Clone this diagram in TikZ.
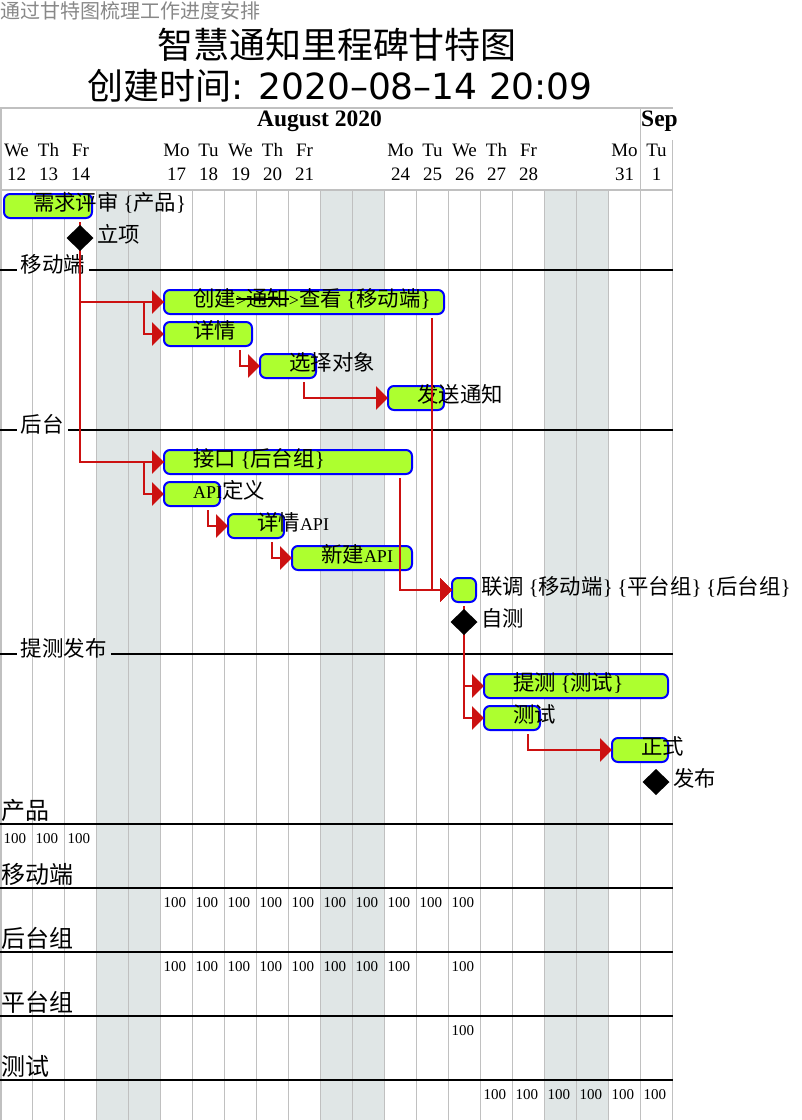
\documentclass[tikz,border=0pt]{standalone}
\usepackage{fontspec}
\setmainfont{Liberation Serif}
\newfontfamily\cjk{Noto Sans CJK SC}
\newfontfamily\dvs{DejaVu Sans}
\usetikzlibrary{arrows.meta,shapes.geometric}
\newcommand\fs[1]{\fontsize{#1}{#1}\selectfont}
\newcommand\C[1]{{\cjk\fs{21.4}#1}}
\newcommand\LB{{\fs{21}\{}}
\newcommand\RB{{\fs{21}\}}}
\newcommand\strk[1]{\setbox0\hbox{#1}\rlap{\rule[0.38em]{\wd0}{1.6pt}}\box0}
\definecolor{barfill}{RGB}{173,255,47}
\definecolor{barline}{RGB}{0,0,255}
\definecolor{depc}{RGB}{204,17,17}
\definecolor{gridc}{RGB}{192,192,192}
\definecolor{shadec}{RGB}{224,230,230}
\definecolor{capgray}{RGB}{136,136,136}
\begin{document}
\begin{tikzpicture}[x=1pt,y=-1pt,
  bar/.style={draw=barline, line width=2pt, fill=barfill, rounded corners=6pt,
    minimum height=24pt, inner sep=0pt, outer sep=0pt, anchor=west},
  tlabel/.style={anchor=base west, inner sep=0pt, font=\fs{18}},
  ms/.style={diamond, fill=black, minimum width=27pt, minimum height=26pt, inner sep=0pt, outer sep=0pt},
  depline/.style={draw=depc, line width=2.8pt, -{Triangle[length=12pt 0 0, width=23pt 0 0]}},
  gridline/.style={draw=gridc, line width=1.8pt},
  secline/.style={draw=black, line width=1.6pt},
  seclabel/.style={anchor=base west, inner sep=0pt, font=\cjk\fs{21.5}},
  reslabel/.style={anchor=base west, inner sep=0pt, font=\cjk\fs{24}},
  resnum/.style={anchor=base west, inner sep=0pt, font=\fs{15}},
  dayname/.style={anchor=base, inner sep=0pt, font=\fs{19}},
  month/.style={inner sep=0pt, font=\bfseries\fs{23.5}}
]
\useasboundingbox (0,0) rectangle (802,1120);
\fill[white] (0,0) rectangle (802,1120);

% caption and title
\node[anchor=base west, inner sep=0pt, font=\cjk\fs{20}, text=capgray] (cap) at (0,18) {通过甘特图梳理工作进度安排};
\node[anchor=base, inner sep=0pt, font=\cjk\fs{36}] (t1) at (337,58) {智慧通知里程碑甘特图};
\node[anchor=base, inner sep=0pt, font=\fs{36}] (t2) at (340,99) {{\cjk 创建时间}\dvs: 2020–08–14 20:09};

% weekend shading
\foreach \a in {3,10,17} {
  \fill[shadec] (32*\a+0.5,190) rectangle (32*\a+64.5,1120);
}
% grid
\foreach \i in {1,...,20} {
  \draw[gridline] (32*\i+0.5,190) -- (32*\i+0.5,1120);
}
\draw[gridline] (0,108) -- (673,108);
\draw[gridline] (0,190) -- (673,190);
\draw[gridline] (0.9,108) -- (0.9,1120);
\draw[gridline] (640.5,108) -- (640.5,190);
\draw[gridline] (672.5,140) -- (672.5,1120);

% header
\node[month, anchor=base] (aug) at (319.5,126) {August 2020};
\node[month, anchor=base west] (sep) at (641,126) {Sep};
\foreach \c/\d/\n in {0/We/12,1/Th/13,2/Fr/14,5/Mo/17,6/Tu/18,7/We/19,8/Th/20,9/Fr/21,
  12/Mo/24,13/Tu/25,14/We/26,15/Th/27,16/Fr/28,19/Mo/31,20/Tu/1} {
  \node[dayname] (dn\c) at (32*\c+16.5,156) {\d};
  \node[dayname] (dd\c) at (32*\c+16.5,180) {\n};
}

% section separators
\node[seclabel] (s1) at (20.5,272) {移动端};
\node[seclabel] (s2) at (20.5,432) {后台};
\node[seclabel] (s3) at (20.5,656) {提测发布};
\coordinate (l1) at (0,270);   \coordinate (r1) at (673,270);
\coordinate (l2) at (0,430);   \coordinate (r2) at (673,430);
\coordinate (l3) at (0,654);   \coordinate (r3) at (673,654);
\draw[secline] (l1) -- ([xshift=-4pt]s1.west |- l1);
\draw[secline] ([xshift=4pt]s1.east |- r1) -- (r1);
\draw[secline] (l2) -- ([xshift=-4pt]s2.west |- l2);
\draw[secline] ([xshift=4pt]s2.east |- r2) -- (r2);
\draw[secline] (l3) -- ([xshift=-4pt]s3.west |- l3);
\draw[secline] ([xshift=4pt]s3.east |- r3) -- (r3);

% resources
\foreach \n/\t/\y in {ra/产品/824, rb/移动端/888, rc/后台组/952, rd/平台组/1016, re/测试/1080} {
  \node[reslabel] (\n) at (1,\y-5) {\t};
  \draw[secline] (0,\y) -- (673,\y);
}
\foreach \c in {0,1,2} { \node[resnum] (na\c) at (32*\c+3.5,843) {100}; }
\foreach \c in {5,...,14} { \node[resnum] (nb\c) at (32*\c+3.5,907) {100}; }
\foreach \c in {5,...,12,14} { \node[resnum] (nc\c) at (32*\c+3.5,971) {100}; }
\foreach \c in {14} { \node[resnum] (nd\c) at (32*\c+3.5,1035) {100}; }
\foreach \c in {15,...,20} { \node[resnum] (ne\c) at (32*\c+3.5,1099) {100}; }

% bars
\node[bar, minimum width=88pt]  (req)    at (4,206) {};
\node[bar, minimum width=280pt] (create) at (164,302) {};
\node[bar, minimum width=88pt]  (detail) at (164,334) {};
\node[bar, minimum width=56pt]  (select) at (260,366) {};
\node[bar, minimum width=56pt]  (send)   at (388,398) {};
\node[bar, minimum width=248pt] (api)    at (164,462) {};
\node[bar, minimum width=56pt]  (apidef) at (164,494) {};
\node[bar, minimum width=56pt]  (apidet) at (228,526) {};
\node[bar, minimum width=120pt] (apinew) at (292,558) {};
\node[bar, minimum width=24pt]  (joint)  at (452,590) {};
\node[bar, minimum width=184pt] (submit) at (484,686) {};
\node[bar, minimum width=56pt]  (test)   at (484,718) {};
\node[bar, minimum width=56pt]  (formal) at (612,750) {};

% bar labels
\node[tlabel] (reqT)    at ([xshift=29pt,yshift=-4.5pt]req.west)    {\C{需求评审} \LB\C{产品}\RB};
\node[tlabel] (createT) at ([xshift=29pt,yshift=-4.5pt]create.west) {\C{创建}\strk{>\C{通知}}>\C{查看} \LB\C{移动端}\RB};
\node[tlabel] (detailT) at ([xshift=29pt,yshift=-4.5pt]detail.west) {\C{详情}};
\node[tlabel] (selectT) at ([xshift=29pt,yshift=-4.5pt]select.west) {\C{选择对象}};
\node[tlabel] (sendT)   at ([xshift=29pt,yshift=-4.5pt]send.west)   {\C{发送通知}};
\node[tlabel] (apiT)    at ([xshift=29pt,yshift=-4.5pt]api.west)    {\C{接口} \LB\C{后台组}\RB};
\node[tlabel] (apidefT) at ([xshift=29pt,yshift=-4.5pt]apidef.west) {API\C{定义}};
\node[tlabel] (apidetT) at ([xshift=29pt,yshift=-4.5pt]apidet.west) {\C{详情}API};
\node[tlabel] (apinewT) at ([xshift=29pt,yshift=-4.5pt]apinew.west) {\C{新建}API};
\node[tlabel] (jointT)  at ([xshift=5pt,yshift=-4.5pt]joint.east)   {\C{联调} \LB\C{移动端}\RB\ \LB\C{平台组}\RB\ \LB\C{后台组}\RB};
\node[tlabel] (submitT) at ([xshift=29pt,yshift=-4.5pt]submit.west) {\C{提测} \LB\C{测试}\RB};
\node[tlabel] (testT)   at ([xshift=29pt,yshift=-4.5pt]test.west)   {\C{测试}};
\node[tlabel] (formalT) at ([xshift=29pt,yshift=-4.5pt]formal.west) {\C{正式}};

\path (80,238) coordinate (m1c) (464,622) coordinate (m2c) (656,782) coordinate (m3c);

% dependencies
\draw[depline] ([xshift=-12pt,yshift=-4pt]req.south east) |- (create.west);
\draw[depline] ([xshift=-12pt,yshift=-4pt]req.south east) |- (api.west);
\draw[depline] (create.west) -- ++(-20,0) |- (detail.west);
\draw[depline] (api.west) -- ++(-20,0) |- (apidef.west);
\draw[depline] ([xshift=-12pt,yshift=-4pt]detail.south east) |- (select.west);
\draw[depline] ([xshift=-12pt,yshift=-4pt]select.south east) |- (send.west);
\draw[depline] ([xshift=-12pt,yshift=-4pt]create.south east) |- (joint.west);
\draw[depline] ([xshift=-12pt,yshift=-4pt]send.south east) |- (joint.west);
\draw[depline] ([xshift=-12pt,yshift=-4pt]api.south east) |- (joint.west);
\draw[depline] ([xshift=-12pt,yshift=-4pt]apinew.south east) |- (joint.west);
\draw[depline] ([xshift=-12pt,yshift=-4pt]apidef.south east) |- (apidet.west);
\draw[depline] ([xshift=-12pt,yshift=-4pt]apidet.south east) |- (apinew.west);
\draw[depline] ([xshift=-12pt,yshift=-4pt]joint.south east) |- (submit.west);
\draw[depline] ([xshift=-12pt,yshift=-4pt]joint.south east) |- (test.west);
\draw[depline] ([xshift=-12pt,yshift=-4pt]test.south east) |- (formal.west);

% milestones
\node[ms] (m1) at (m1c) {};
\node[ms] (m2) at (m2c) {};
\node[ms] (m3) at (m3c) {};
\node[tlabel] (m1T) at ([xshift=3.5pt,yshift=-4pt]m1.east) {\C{立项}};
\node[tlabel] (m2T) at ([xshift=3.5pt,yshift=-4pt]m2.east) {\C{自测}};
\node[tlabel] (m3T) at ([xshift=3.5pt,yshift=-4pt]m3.east) {\C{发布}};
\end{tikzpicture}
\end{document}
